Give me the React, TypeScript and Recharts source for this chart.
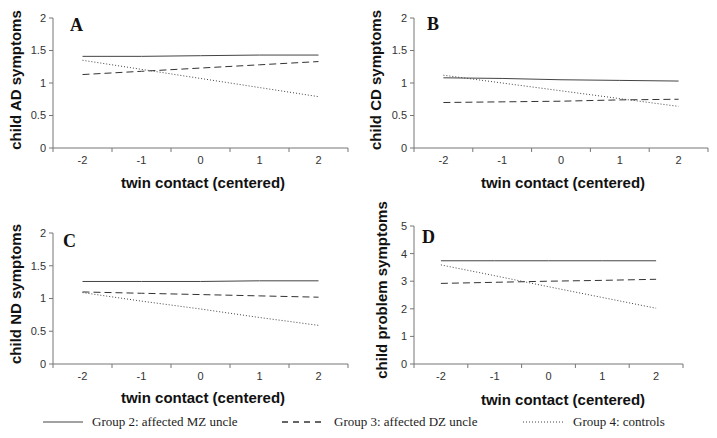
import React from 'react';
import { LineChart, Line, XAxis, YAxis } from 'recharts';

const contact = [-2, -1, 0, 1, 2];
const xTicks = [-2.5, -2, -1.5, -1, -0.5, 0, 0.5, 1, 1.5, 2, 2.5];

const adMZ = [1.41, 1.41, 1.42, 1.43, 1.43];
const adDZ = [1.13, 1.18, 1.23, 1.28, 1.33];
const adCtl = [1.35, 1.21, 1.07, 0.93, 0.79];

const cdMZ = [1.08, 1.07, 1.05, 1.04, 1.03];
const cdDZ = [0.7, 0.71, 0.72, 0.74, 0.75];
const cdCtl = [1.12, 1.0, 0.88, 0.76, 0.64];

const ndMZ = [1.26, 1.26, 1.26, 1.27, 1.27];
const ndDZ = [1.1, 1.08, 1.06, 1.04, 1.02];
const ndCtl = [1.09, 0.96, 0.84, 0.71, 0.59];

const probMZ = [3.74, 3.74, 3.74, 3.74, 3.74];
const probDZ = [2.92, 2.96, 3.0, 3.03, 3.07];
const probCtl = [3.59, 3.2, 2.8, 2.41, 2.02];

const smallTicks = [0, 0.5, 1, 1.5, 2];
const probTicks = [0, 1, 2, 3, 4, 5];

const legendNames = ['Group 2: affected MZ uncle', 'Group 3: affected DZ uncle', 'Group 4: controls'];

const SANS = 'Arial, "Liberation Sans", sans-serif';
const SERIF = '"Times New Roman", "Liberation Serif", serif';
const AXIS = '#777';

const build = (mz: number[], dz: number[], ctl: number[]) =>
  contact.map((x, i) => ({ x, mz: mz[i], dz: dz[i], ctl: ctl[i] }));

// labels at whole values, tick marks between them
const XTick = (props: any) => {
  const { x, y, payload } = props;
  const v = payload.value;
  if (Number.isInteger(v)) {
    return (
      <text x={x} y={y + 16} textAnchor="middle" fontSize={11} fill="#333" fontFamily={SANS}>
        {v}
      </text>
    );
  }
  return <line x1={x} y1={y} x2={x} y2={y + 4} stroke={AXIS} />;
};

interface PanelProps {
  left: number;
  top: number;
  width: number;
  height: number;
  plotBottom: number;
  margin: { top: number; right: number; left: number; bottom: number };
  data: Array<{ x: number; mz: number; dz: number; ctl: number }>;
  yTicks: number[];
  yTitle: string;
  yTitleX: number;
  yTitleY: number;
  xTitleX: number;
  xTitleY: number;
}

const Panel: React.FC<PanelProps> = (p) => (
  <div style={{ position: 'absolute', left: p.left, top: p.top }}>
    <LineChart width={p.width} height={p.height} data={p.data} margin={p.margin}>
      <XAxis
        type="number"
        dataKey="x"
        domain={[-2.5, 2.5]}
        ticks={xTicks}
        interval={0}
        height={p.height - p.plotBottom}
        tickSize={0}
        tickMargin={0}
        tickLine={false}
        tick={<XTick />}
        stroke={AXIS}
        label={{
          content: () => (
            <text x={p.xTitleX} y={p.xTitleY} textAnchor="middle" dominantBaseline="central"
              fontSize={15} fontWeight="bold" fontFamily={SANS} fill="#111">
              twin contact (centered)
            </text>
          ),
        }}
      />
      <YAxis
        width={40}
        domain={[p.yTicks[0], p.yTicks[p.yTicks.length - 1]]}
        ticks={p.yTicks}
        interval={0}
        tickSize={4}
        tickMargin={3}
        stroke={AXIS}
        tick={{ fontSize: 11, fill: '#333', fontFamily: SANS }}
        label={{
          content: () => (
            <text x={p.yTitleX} y={p.yTitleY} textAnchor="middle" dominantBaseline="central"
              transform={`rotate(-90, ${p.yTitleX}, ${p.yTitleY})`}
              fontSize={15} fontWeight="bold" fontFamily={SANS} fill="#111">
              {p.yTitle}
            </text>
          ),
        }}
      />
      <Line type="linear" dataKey="mz" stroke="#444" strokeWidth={1} dot={false} isAnimationActive={false} />
      <Line type="linear" dataKey="dz" stroke="#333" strokeWidth={1} strokeDasharray="7 4" dot={false} isAnimationActive={false} />
      <Line type="linear" dataKey="ctl" stroke="#444" strokeWidth={1} strokeDasharray="1 2" dot={false} isAnimationActive={false} />
    </LineChart>
  </div>
);

const App: React.FC = () => {
  const topH = 195;
  const botH = 225;
  return (
    <div style={{ position: 'absolute', left: 0, top: 0, width: 717, height: 438, background: '#fff', overflow: 'hidden' }}>
      <Panel left={0} top={0} width={358} height={topH} plotBottom={148} margin={{ top: 18, right: 10, left: 13, bottom: 0 }}
        data={build(adMZ, adDZ, adCtl)} yTicks={smallTicks} yTitle="child AD symptoms"
        yTitleX={15} yTitleY={80} xTitleX={203} xTitleY={182} />
      <Panel left={358} top={0} width={359} height={topH} plotBottom={148} margin={{ top: 18, right: 9, left: 16, bottom: 0 }}
        data={build(cdMZ, cdDZ, cdCtl)} yTicks={smallTicks} yTitle="child CD symptoms"
        yTitleX={17} yTitleY={80} xTitleX={205} xTitleY={182} />
      <Panel left={0} top={195} width={358} height={botH} plotBottom={169} margin={{ top: 38, right: 10, left: 13, bottom: 0 }}
        data={build(ndMZ, ndDZ, ndCtl)} yTicks={smallTicks} yTitle="child ND symptoms"
        yTitleX={15} yTitleY={99} xTitleX={203} xTitleY={202} />
      <Panel left={358} top={195} width={359} height={botH} plotBottom={169} margin={{ top: 31, right: 34, left: 16, bottom: 0 }}
        data={build(probMZ, probDZ, probCtl)} yTicks={probTicks} yTitle="child problem symptoms"
        yTitleX={23} yTitleY={95} xTitleX={205} xTitleY={204} />

      <svg width={717} height={438} style={{ position: 'absolute', left: 0, top: 0, pointerEvents: 'none' }}>
        <g fontFamily={SERIF} fontWeight="bold" fontSize={18} fill="#111">
          <text x={70} y={31}>A</text>
          <text x={427} y={30}>B</text>
          <text x={63} y={247}>C</text>
          <text x={422} y={243}>D</text>
        </g>
        <g fontFamily={SERIF} fontSize={13} fill="#222">
          <line x1={43} y1={422} x2={83} y2={422} stroke="#444" />
          <text x={92} y={426}>{legendNames[0]}</text>
          <line x1={282} y1={422} x2={323} y2={422} stroke="#333" strokeWidth={1.5} strokeDasharray="6 5" />
          <text x={334} y={426}>{legendNames[1]}</text>
          <line x1={523} y1={422} x2={563} y2={422} stroke="#444" strokeDasharray="1 2" />
          <text x={573} y={426}>{legendNames[2]}</text>
        </g>
      </svg>
    </div>
  );
};

export default App;
